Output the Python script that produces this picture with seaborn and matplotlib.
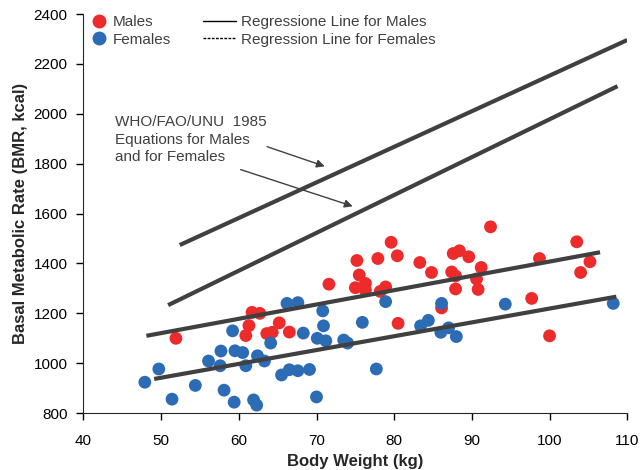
import matplotlib
matplotlib.use('Agg')
import matplotlib.pyplot as plt
from matplotlib.lines import Line2D
import seaborn as sns
import pandas as pd

# Body weight (kg) and BMR (kcal)
male_weight = [51.9, 60.9, 61.3, 61.7, 62.7, 63.6, 64.3, 65.2, 66.5, 71.6,
               75.2, 75.5, 75.0, 76.3, 76.3, 77.9, 78.2, 78.9, 79.6, 80.4,
               80.5, 83.3, 84.8, 86.1, 87.4, 87.9, 87.9, 87.6, 88.4, 89.6,
               90.6, 90.8, 91.2, 92.4, 97.7, 98.7, 100.0, 103.5, 104.0, 105.2]
male_bmr = [1100, 1111, 1151, 1204, 1200, 1119, 1124, 1162, 1125, 1317,
            1412, 1354, 1303, 1320, 1293, 1420, 1288, 1306, 1485, 1431,
            1160, 1404, 1364, 1222, 1366, 1350, 1298, 1440, 1451, 1427,
            1338, 1296, 1384, 1547, 1260, 1420, 1110, 1487, 1364, 1407]

female_weight = [47.9, 49.7, 51.4, 54.4, 56.1, 57.7, 57.6, 58.1, 59.2, 59.5,
                 59.4, 60.5, 60.9, 61.9, 62.3, 62.4, 63.3, 64.1, 65.5, 66.5,
                 67.6, 69.1, 70.0, 66.2, 67.6, 68.3, 70.8, 70.9, 70.1, 71.2,
                 73.5, 74.0, 75.9, 77.7, 78.9, 83.4, 84.4, 86.1, 86.0, 87.0,
                 88.0, 94.3, 108.2]
female_bmr = [924, 977, 856, 911, 1009, 1049, 990, 892, 1130, 1050,
              844, 1043, 990, 853, 832, 1030, 1009, 1081, 953, 974,
              970, 975, 865, 1240, 1243, 1121, 1210, 1150, 1100, 1090,
              1093, 1081, 1164, 977, 1247, 1150, 1172, 1240, 1124, 1142,
              1107, 1237, 1240]

# line end points (weight, bmr)
reg_male_x = [48.1, 106.5]
reg_male_y = [1110, 1445]
reg_female_x = [49.1, 108.6]
reg_female_y = [937, 1267]
who_male_x = [52.4, 110.0]
who_male_y = [1474, 2296]
who_female_x = [50.9, 108.75]
who_female_y = [1233, 2111]

df = pd.DataFrame({
    'weight': male_weight + female_weight,
    'bmr': male_bmr + female_bmr,
    'sex': ['Males'] * len(male_weight) + ['Females'] * len(female_weight),
})

red = '#ED2B2B'
blue = '#2B6CB5'
dark = '#404040'

sns.set_style('ticks')
plt.rcParams['font.family'] = ['Liberation Sans', 'DejaVu Sans']

fig = plt.figure(figsize=(6.42, 4.70), dpi=100)
ax = fig.add_axes([0.130, 0.121, 0.847, 0.849])

sns.scatterplot(data=df, x='weight', y='bmr', hue='sex',
                palette={'Males': red, 'Females': blue},
                s=85, edgecolor='none', legend=False, ax=ax, zorder=2)

for xs, ys in [(reg_male_x, reg_male_y), (reg_female_x, reg_female_y),
               (who_male_x, who_male_y), (who_female_x, who_female_y)]:
    ax.plot(xs, ys, color=dark, lw=3, zorder=3, solid_capstyle='butt')

ax.set_xlim(40, 110)
ax.set_ylim(800, 2400)
ax.set_xticks(range(40, 111, 10))
ax.set_yticks(range(800, 2401, 200))
ax.tick_params(labelsize=11, length=5, width=1, colors='black')
ax.tick_params(axis='x', pad=10)
ax.tick_params(axis='y', pad=6.5)
ax.set_xlabel('Body Weight (kg)', fontsize=12, fontweight='bold', labelpad=4)
ax.set_ylabel('Basal Metabolic Rate (BMR, kcal)', fontsize=12,
              fontweight='bold', labelpad=4)
sns.despine(ax=ax)

ax.text(44.1, 1994, 'WHO/FAO/UNU  1985\nEquations for Males\nand for Females',
        fontsize=11, color=dark, va='top', ha='left', linespacing=1.3)
arrow = dict(arrowstyle='-|>', color=dark, lw=1, mutation_scale=12)
ax.annotate('', xy=(71.4, 1786), xytext=(63.3, 1872), arrowprops=arrow)
ax.annotate('', xy=(75.0, 1626), xytext=(59.9, 1780), arrowprops=arrow)

dot_handles = [
    Line2D([], [], ls='none', marker='o', ms=9, color=red),
    Line2D([], [], ls='none', marker='o', ms=9, color=blue),
]
leg1 = ax.legend(dot_handles, ['Males', 'Females'], loc='upper left',
                 bbox_to_anchor=(93 / 642, 1 - 15 / 470),
                 bbox_transform=fig.transFigure, frameon=False, fontsize=11,
                 handlelength=0.8, handletextpad=0.5, labelspacing=0.25,
                 borderpad=0, borderaxespad=0, labelcolor=dark)
ax.add_artist(leg1)

line_handles = [
    Line2D([], [], color='black', lw=1),
    Line2D([], [], color='black', lw=1, ls=(0, (2, 1))),
]
ax.legend(line_handles, ['Regressione Line for Males',
                         'Regression Line for Females'],
          loc='upper left', bbox_to_anchor=(203 / 642, 1 - 15 / 470),
          bbox_transform=fig.transFigure, frameon=False, fontsize=11,
          handlelength=2.15, handletextpad=0.35, labelspacing=0.25,
          borderpad=0, borderaxespad=0, labelcolor=dark)

fig.savefig('out.png', dpi=100)
